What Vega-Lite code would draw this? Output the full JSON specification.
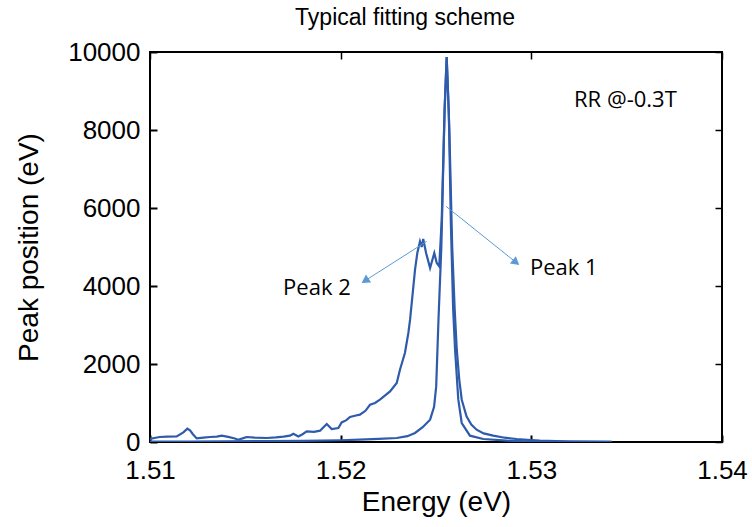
{
  "$schema": "https://vega.github.io/schema/vega-lite/v6.json",
  "width": 572,
  "height": 390,
  "autosize": "none",
  "padding": {"left": 150, "top": 52, "right": 30, "bottom": 85},
  "background": "white",
  "config": {
    "view": {"stroke": "black", "strokeWidth": 2},
    "axis": {"domain": false, "grid": false, "ticks": true, "tickColor": "black", "tickWidth": 1.5, "tickSize": -7, "zindex": 1, "labelFlush": false, "labelOverlap": false,
             "labelFont": "Liberation Sans", "labelFontSize": 26, "labelColor": "black",
             "titleFont": "Liberation Sans", "titleFontSize": 28, "titleFontWeight": "normal", "titleColor": "black"}
  },
  "resolve": {"axis": {"x": "independent", "y": "independent"}},
  "title": {"text": "Typical fitting scheme", "font": "Liberation Sans", "fontSize": 23, "fontWeight": "normal", "color": "black", "anchor": "middle", "dx": -31, "offset": 9},
  "datasets": {
    "spectra": [
      {"series": "data", "E": 1.51, "V": 77}, {"series": "data", "E": 1.5103, "V": 110}, {"series": "data", "E": 1.5105, "V": 128},
      {"series": "data", "E": 1.5109, "V": 140}, {"series": "data", "E": 1.5114, "V": 144}, {"series": "data", "E": 1.51175, "V": 246},
      {"series": "data", "E": 1.51196, "V": 341}, {"series": "data", "E": 1.5121, "V": 300}, {"series": "data", "E": 1.51225, "V": 200},
      {"series": "data", "E": 1.51245, "V": 92}, {"series": "data", "E": 1.5128, "V": 110}, {"series": "data", "E": 1.51315, "V": 128},
      {"series": "data", "E": 1.5135, "V": 140}, {"series": "data", "E": 1.51376, "V": 162}, {"series": "data", "E": 1.5141, "V": 130},
      {"series": "data", "E": 1.51445, "V": 90}, {"series": "data", "E": 1.51463, "V": 59}, {"series": "data", "E": 1.5149, "V": 100},
      {"series": "data", "E": 1.51507, "V": 128}, {"series": "data", "E": 1.5155, "V": 110}, {"series": "data", "E": 1.51612, "V": 103},
      {"series": "data", "E": 1.5166, "V": 120}, {"series": "data", "E": 1.517, "V": 140}, {"series": "data", "E": 1.51734, "V": 162},
      {"series": "data", "E": 1.51752, "V": 213}, {"series": "data", "E": 1.51778, "V": 144}, {"series": "data", "E": 1.518, "V": 200},
      {"series": "data", "E": 1.51822, "V": 272}, {"series": "data", "E": 1.5186, "V": 260}, {"series": "data", "E": 1.51892, "V": 290},
      {"series": "data", "E": 1.5191, "V": 380}, {"series": "data", "E": 1.51927, "V": 462}, {"series": "data", "E": 1.51953, "V": 333},
      {"series": "data", "E": 1.51988, "V": 359}, {"series": "data", "E": 1.52005, "V": 503}, {"series": "data", "E": 1.5203, "V": 560},
      {"series": "data", "E": 1.52049, "V": 641}, {"series": "data", "E": 1.5208, "V": 680}, {"series": "data", "E": 1.52101, "V": 700},
      {"series": "data", "E": 1.5213, "V": 800}, {"series": "data", "E": 1.52154, "V": 956}, {"series": "data", "E": 1.5218, "V": 1000},
      {"series": "data", "E": 1.52206, "V": 1085}, {"series": "data", "E": 1.52235, "V": 1200}, {"series": "data", "E": 1.52259, "V": 1297},
      {"series": "data", "E": 1.52294, "V": 1513}, {"series": "data", "E": 1.52311, "V": 1854}, {"series": "data", "E": 1.52337, "V": 2282},
      {"series": "data", "E": 1.52355, "V": 2795}, {"series": "data", "E": 1.52364, "V": 3136}, {"series": "data", "E": 1.52378, "V": 3821},
      {"series": "data", "E": 1.5239, "V": 4418}, {"series": "data", "E": 1.52402, "V": 4846}, {"series": "data", "E": 1.52416, "V": 5144},
      {"series": "data", "E": 1.52425, "V": 5000}, {"series": "data", "E": 1.52433, "V": 5205}, {"series": "data", "E": 1.52448, "V": 4846},
      {"series": "data", "E": 1.52469, "V": 4462}, {"series": "data", "E": 1.52491, "V": 4846}, {"series": "data", "E": 1.52504, "V": 4590},
      {"series": "data", "E": 1.52517, "V": 4503}, {"series": "data", "E": 1.5253, "V": 5700}, {"series": "data", "E": 1.52545, "V": 8500},
      {"series": "data", "E": 1.52556, "V": 9872}, {"series": "data", "E": 1.5257, "V": 8000}, {"series": "data", "E": 1.52585, "V": 5000},
      {"series": "data", "E": 1.52598, "V": 3400}, {"series": "data", "E": 1.52609, "V": 2367}, {"series": "data", "E": 1.52622, "V": 1600},
      {"series": "data", "E": 1.52635, "V": 1085}, {"series": "data", "E": 1.5266, "V": 656}, {"series": "data", "E": 1.52685, "V": 450},
      {"series": "data", "E": 1.52713, "V": 315}, {"series": "data", "E": 1.5275, "V": 220}, {"series": "data", "E": 1.528, "V": 162},
      {"series": "data", "E": 1.5286, "V": 110}, {"series": "data", "E": 1.52923, "V": 77}, {"series": "data", "E": 1.53, "V": 50},
      {"series": "data", "E": 1.53045, "V": 33}, {"series": "data", "E": 1.5313, "V": 20}, {"series": "data", "E": 1.53203, "V": 12},
      {"series": "data", "E": 1.53421, "V": 5},
      {"series": "fit", "E": 1.51, "V": 8}, {"series": "fit", "E": 1.512, "V": 12}, {"series": "fit", "E": 1.514, "V": 16},
      {"series": "fit", "E": 1.516, "V": 22}, {"series": "fit", "E": 1.518, "V": 30}, {"series": "fit", "E": 1.52, "V": 45},
      {"series": "fit", "E": 1.521, "V": 60}, {"series": "fit", "E": 1.522, "V": 80}, {"series": "fit", "E": 1.52294, "V": 103},
      {"series": "fit", "E": 1.5235, "V": 150}, {"series": "fit", "E": 1.5239, "V": 231}, {"series": "fit", "E": 1.5243, "V": 380},
      {"series": "fit", "E": 1.52469, "V": 572}, {"series": "fit", "E": 1.5249, "V": 900}, {"series": "fit", "E": 1.52501, "V": 1426},
      {"series": "fit", "E": 1.52513, "V": 3136}, {"series": "fit", "E": 1.52528, "V": 5000}, {"series": "fit", "E": 1.52545, "V": 8500},
      {"series": "fit", "E": 1.52556, "V": 9872}, {"series": "fit", "E": 1.52567, "V": 8500}, {"series": "fit", "E": 1.52578, "V": 5600},
      {"series": "fit", "E": 1.5259, "V": 3400}, {"series": "fit", "E": 1.526, "V": 2367}, {"series": "fit", "E": 1.52617, "V": 1085},
      {"series": "fit", "E": 1.52635, "V": 487}, {"series": "fit", "E": 1.52678, "V": 162}, {"series": "fit", "E": 1.52748, "V": 77},
      {"series": "fit", "E": 1.52871, "V": 33}, {"series": "fit", "E": 1.53, "V": 18}, {"series": "fit", "E": 1.532, "V": 8},
      {"series": "fit", "E": 1.53421, "V": 5}
    ],
    "arrows": [
      {"label": "Peak 1", "E1": 1.52553, "V1": 6041, "E2": 1.5292, "V2": 4605},
      {"label": "Peak 2", "E1": 1.52451, "V1": 5144, "E2": 1.52128, "V2": 4136}
    ],
    "labels": [
      {"text": "Peak 1", "E": 1.52993, "V": 4469},
      {"text": "Peak 2", "E": 1.51698, "V": 3956},
      {"text": "RR @-0.3T", "E": 1.53224, "V": 8777}
    ]
  },
  "layer": [
    {
      "data": {"name": "spectra"},
      "mark": {"type": "line", "color": "#2F5BAB", "strokeWidth": 2.2, "clip": true},
      "encoding": {
        "x": {"field": "E", "type": "quantitative", "scale": {"domain": [1.51, 1.54], "nice": false, "zero": false},
              "axis": {"orient": "bottom", "title": "Energy (eV)", "values": [1.51, 1.52, 1.53, 1.54], "format": ".2f", "tickSize": -7, "tickWidth": 2, "labelPadding": 22, "titlePadding": 5}},
        "y": {"field": "V", "type": "quantitative", "scale": {"domain": [0, 10000], "nice": false},
              "axis": {"orient": "left", "title": "Peak position (eV)", "values": [0, 2000, 4000, 6000, 8000, 10000], "format": "d", "tickSize": -7, "tickWidth": 2, "labelPadding": 17, "titlePadding": 24}},
        "detail": {"field": "series"}
      }
    },
    {
      "data": {"name": "arrows"},
      "mark": {"type": "rule", "color": "#5B9BD5", "strokeWidth": 1},
      "encoding": {
        "x": {"field": "E1", "type": "quantitative", "axis": {"orient": "top", "title": null, "labels": false, "tickSize": -7, "values": [1.51, 1.52, 1.53, 1.54]}},
        "y": {"field": "V1", "type": "quantitative", "axis": {"orient": "right", "title": null, "labels": false, "tickSize": -7, "values": [0, 2000, 4000, 6000, 8000, 10000]}},
        "x2": {"field": "E2"},
        "y2": {"field": "V2"}
      }
    },
    {
      "data": {"name": "arrows"},
      "transform": [{"filter": "datum.label === 'Peak 1'"}],
      "mark": {"type": "point", "shape": "triangle-up", "filled": true, "color": "#5B9BD5", "opacity": 1, "size": 90, "angle": 129},
      "encoding": {
        "x": {"field": "E2", "type": "quantitative", "axis": null},
        "y": {"field": "V2", "type": "quantitative", "axis": null}
      }
    },
    {
      "data": {"name": "arrows"},
      "transform": [{"filter": "datum.label === 'Peak 2'"}],
      "mark": {"type": "point", "shape": "triangle-up", "filled": true, "color": "#5B9BD5", "opacity": 1, "size": 90, "angle": 237},
      "encoding": {
        "x": {"field": "E2", "type": "quantitative", "axis": null},
        "y": {"field": "V2", "type": "quantitative", "axis": null}
      }
    },
    {
      "data": {"name": "labels"},
      "mark": {"type": "text", "font": "Open Sans", "fontSize": 22, "align": "left", "baseline": "middle", "color": "black"},
      "encoding": {
        "x": {"field": "E", "type": "quantitative", "axis": null},
        "y": {"field": "V", "type": "quantitative", "axis": null},
        "text": {"field": "text"}
      }
    }
  ]
}
